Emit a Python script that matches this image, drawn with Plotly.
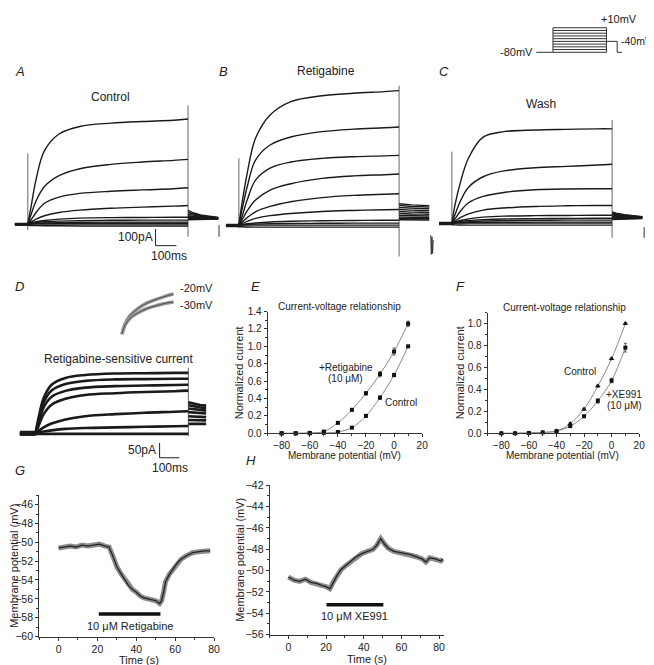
import plotly.graph_objects as go

W, H = 654, 665
FONT = "Liberation Sans, Arial, sans-serif"

# ---------------- data ----------------
# voltage protocol (ms, mV)
PROTO_LEVELS = [-80, -70, -60, -50, -40, -30, -20, -10, 0, 10]
PROTO_HOLD_T = [-315, 0]
PROTO_STEP_T = [0, 1000]
PROTO_TAIL_T = [1000, 1200, 1200, 1290]
PROTO_TAIL_V = [-40, -40, -80, -80]

# current traces (ms, pA)
T_STEP = [-62, 0, 15, 40, 80, 150, 250, 400, 550, 700, 770]
T_TAIL = [770, 790, 830, 880, 915]

A_STEP = [
    [0, 0, 100, 270, 440, 540, 585, 605, 615, 622, 630],
    [0, 0, 55, 140, 225, 290, 332, 358, 372, 382, 388],
    [0, 0, 25, 70, 125, 162, 184, 197, 205, 212, 218],
    [0, 0, 12, 30, 50, 70, 84, 95, 102, 108, 112],
    [2, 2, 7, 14, 22, 30, 36, 39, 40, 41, 41],
    [-2, -2, 4, 9, 14, 18, 21, 23, 24, 24, 24],
    [4, 4, 3, 5, 7, 9, 11, 12, 12, 12, 12],
    [-4, -4, 2, 3, 4, 5, 5, 5, 5, 5, 5],
    [1, 1, 0, 0, 0, 0, 0, 0, 0, 0, 0],
    [-7, -7, -8, -9, -10, -10, -11, -11, -11, -11, -11],
]
A_TAIL = [
    [82, 70, 55, 45, 40], [70, 62, 50, 43, 39], [60, 54, 46, 41, 38],
    [50, 47, 42, 39, 37], [44, 42, 39, 37, 36], [40, 39, 37, 36, 35],
    [36, 36, 35, 35, 34], [33, 33, 33, 33, 33], [30, 30, 31, 31, 32],
    [26, 27, 28, 29, 30],
]
A_ON, A_OFF, A_BLIP = [424, -35], [712, -76], [-6, -76]

B_STEP = [
    [0, 0, 130, 310, 520, 660, 740, 775, 790, 800, 806],
    [0, 0, 90, 230, 390, 480, 528, 560, 575, 583, 588],
    [0, 0, 50, 150, 270, 342, 378, 400, 410, 415, 418],
    [0, 0, 30, 85, 150, 210, 248, 280, 295, 302, 306],
    [2, 2, 17, 45, 80, 112, 140, 165, 178, 185, 188],
    [-2, -2, 9, 23, 40, 57, 70, 82, 88, 92, 94],
    [4, 4, 4, 8, 13, 19, 23, 26, 28, 29, 29],
    [-4, -4, 2, 4, 6, 8, 10, 11, 12, 12, 12],
    [1, 1, 0, 0, 0, 0, 0, 0, 0, 0, 0],
    [-8, -8, -10, -11, -12, -12, -12, -12, -12, -12, -12],
]
B_TAIL = [
    [128, 125, 121, 118, 116], [118, 115, 112, 110, 108], [106, 104, 101, 99, 98],
    [94, 92, 90, 88, 87], [82, 80, 78, 77, 76], [70, 68, 67, 66, 65],
    [58, 57, 56, 55, 55], [48, 47, 46, 46, 45], [40, 39, 39, 38, 38],
    [32, 32, 32, 31, 31],
]
B_ON, B_OFF = [400, -18], [835, -188]
B_BLIP_T = [922, 925, 928, 931, 934]
B_BLIP_V = [-60, -175, -70, -170, -90]

C_STEP = [
    [0, 0, 110, 240, 390, 515, 548, 558, 562, 565, 565],
    [0, 0, 50, 130, 215, 278, 313, 332, 340, 348, 353],
    [0, 0, 25, 70, 122, 160, 184, 200, 205, 206, 206],
    [0, 0, 12, 33, 56, 78, 91, 100, 104, 106, 106],
    [2, 2, 7, 16, 26, 36, 42, 45, 46, 47, 47],
    [-2, -2, 4, 10, 16, 21, 25, 27, 28, 29, 29],
    [4, 4, 3, 5, 9, 13, 15, 17, 18, 18, 18],
    [-4, -4, 1, 2, 3, 4, 5, 6, 6, 6, 6],
    [1, 1, 0, 0, 0, 0, 0, 0, 0, 0, 0],
    [-8, -8, -10, -11, -12, -12, -12, -12, -12, -12, -12],
]
C_TAIL = [
    [68, 60, 50, 42, 38], [60, 55, 47, 41, 37], [54, 50, 44, 39, 36],
    [48, 45, 41, 37, 35], [42, 40, 38, 36, 34], [38, 37, 35, 34, 33],
    [34, 34, 33, 33, 32], [30, 30, 30, 30, 30], [26, 27, 28, 28, 29],
    [22, 23, 25, 26, 27],
]
C_ON, C_OFF, C_BLIP = [429, -12], [618, -88], [-24, -88]

# retigabine-sensitive current (ms, pA)
T_STEP_D = [-80, 0, 15, 40, 80, 150, 250, 400, 550, 700, 770]
T_TAIL_D = [770, 800, 830, 860]
D_STEP = [
    [4, 4, 55, 120, 165, 188, 198, 203, 204, 205, 205],
    [2, 2, 45, 105, 145, 167, 178, 183, 184, 185, 185],
    [0, 0, 38, 88, 124, 144, 155, 160, 162, 164, 165],
    [-2, -2, 26, 65, 97, 117, 130, 136, 140, 143, 145],
    [-3, -3, 8, 20, 33, 47, 58, 65, 70, 73, 75],
    [-4, -4, 3, 6, 10, 15, 18, 20, 22, 24, 25],
    [-2, -2, -2, -2, -2, -2, -2, -2, -2, -2, -2],
]
D_TAIL = [
    [105, 100, 96, 94], [95, 91, 88, 86], [84, 81, 79, 77], [72, 70, 68, 67],
    [58, 57, 56, 55], [45, 45, 44, 44], [32, 32, 32, 32],
]
D_OFF = [223, -10]

# inset: normalised activation at -20 / -30 mV
INSET_T = [0, 15, 40, 80, 125, 170, 210, 260]
INSET_M20 = [0, 0.25, 0.47, 0.65, 0.79, 0.88, 0.95, 1.02]
INSET_M30 = [0, 0.22, 0.40, 0.54, 0.65, 0.72, 0.775, 0.82]

# scale bars
SCALE_T0, SCALE_MS, SCALE_PA, SCALE_PA0 = 614, 100, 100, -129
D_SCALE_T0, D_SCALE_PA, D_SCALE_PA0 = 625, 50, -83

# I-V relationships
IV_V = [-80, -70, -60, -50, -40, -30, -20, -10, 0, 10]
E_RET = [0.0, 0.0, 0.005, 0.02, 0.12, 0.27, 0.46, 0.68, 0.94, 1.26]
E_RET_ERR = [0, 0, 0, 0.01, 0.01, 0.015, 0.02, 0.03, 0.04, 0.03]
E_CTRL = [0.0, 0.0, 0.0, 0.005, 0.015, 0.065, 0.20, 0.41, 0.67, 1.0]
E_CTRL_ERR = [0, 0, 0, 0, 0.005, 0.01, 0.01, 0.02, 0.02, 0.01]
F_CTRL = [0.0, 0.0, 0.003, 0.008, 0.02, 0.088, 0.22, 0.43, 0.68, 1.0]
F_CTRL_ERR = [0, 0, 0, 0, 0.005, 0.01, 0.01, 0.01, 0.01, 0.01]
F_XE = [0.0, 0.0, 0.003, 0.008, 0.02, 0.065, 0.155, 0.295, 0.48, 0.78]
F_XE_ERR = [0, 0, 0, 0, 0.005, 0.01, 0.01, 0.02, 0.02, 0.04]

# membrane potential time courses (s, mV)
G_T = [0, 3, 6, 9, 12, 15, 18, 21, 24, 26, 28, 30, 32, 34, 36, 38, 40, 42, 44, 46,
       48, 50, 52, 53, 54, 55, 57, 59, 61, 63, 66, 69, 72, 75, 78]
G_V = [-50.6, -50.5, -50.4, -50.5, -50.3, -50.4, -50.3, -50.2, -50.4, -50.5, -51.5,
       -52.6, -53.3, -53.9, -54.6, -55.0, -55.3, -55.7, -55.9, -56.0, -56.1, -56.2,
       -56.5, -56.2, -55.3, -54.2, -53.4, -52.8, -52.2, -51.8, -51.4, -51.1, -51.0,
       -50.9, -50.9]
G_BAR_T, G_BAR_V = [20.7, 52.4], -57.6
H_T = [0, 3, 6, 9, 12, 15, 18, 20, 22, 24, 26, 28, 30, 33, 36, 39, 42, 45, 47, 49,
       51, 53, 56, 59, 62, 65, 68, 71, 73, 75, 78, 81, 82]
H_V = [-50.6, -50.9, -51.0, -50.8, -51.1, -51.2, -51.4, -51.5, -51.7, -51.0, -50.4,
       -49.9, -49.6, -49.2, -48.7, -48.4, -48.2, -48.0, -47.6, -47.0, -47.5, -47.9,
       -48.2, -48.3, -48.4, -48.5, -48.7, -48.9, -49.2, -48.8, -48.9, -49.1, -48.9]
H_BAR_T, H_BAR_V = [20.2, 50.4], -53.2

# ---------------- figure ----------------
fig = go.Figure()
layout = dict(width=W, height=H, margin=dict(l=0, r=0, t=0, b=0),
              paper_bgcolor="white", plot_bgcolor="white", showlegend=False)
annotations = []


def ax_names(i):
    s = "" if i == 1 else str(i)
    return "xaxis" + s, "yaxis" + s, "x" + s, "y" + s


def add_axes(i, xpx, ypx, xr, yr, visible=False):
    xn, yn, xs, ys = ax_names(i)
    layout[xn] = dict(domain=[xpx[0] / W, xpx[1] / W], range=xr, autorange=False,
                      anchor=ys, visible=visible, fixedrange=True, showgrid=False,
                      zeroline=False)
    layout[yn] = dict(domain=[1 - ypx[1] / H, 1 - ypx[0] / H], range=yr, autorange=False,
                      anchor=xs, visible=visible, fixedrange=True, showgrid=False,
                      zeroline=False)
    return xs, ys


def style_axes(i, xt0, xdt, xminor, yt0, ydt, yminor, yfmt=None, tsize=10):
    xn, yn, _, _ = ax_names(i)
    common = dict(showline=True, linecolor="#333", linewidth=1, ticks="outside",
                  ticklen=3, tickcolor="#333", tickwidth=1,
                  tickfont=dict(size=tsize, family=FONT, color="#222"), tickmode="linear")
    layout[xn].update(common, tick0=xt0, dtick=xdt,
                      minor=dict(ticks="outside", ticklen=2, dtick=xminor, tick0=xt0,
                                 tickcolor="#333"))
    layout[yn].update(common, tick0=yt0, dtick=ydt,
                      minor=dict(ticks="outside", ticklen=2, dtick=yminor, tick0=yt0,
                                 tickcolor="#333"))
    if yfmt:
        layout[yn]["tickformat"] = yfmt


def line(axes, x, y, color="#1a1a1a", width=1.3, shape="linear"):
    fig.add_trace(go.Scatter(x=x, y=y, xaxis=axes[0], yaxis=axes[1], mode="lines",
                             line=dict(color=color, width=width, shape=shape),
                             hoverinfo="skip", cliponaxis=False))


def step_trace(axes, t, s, width):
    # flat holding segment, then smooth activation from the step onset
    line(axes, t[:2], s[:2], "#1a1a1a", width)
    line(axes, t[1:], s[1:], "#1a1a1a", width, "spline")


def txt(x, y, s, size, xanchor="center", angle=0, color="#222"):
    annotations.append(dict(x=x / W, y=1 - y / H, xref="paper", yref="paper", text=s,
                            showarrow=False, xanchor=xanchor, yanchor="middle",
                            textangle=angle, borderpad=0,
                            font=dict(size=size, family=FONT, color=color)))


# --- protocol ---
ap = add_axes(1, (533, 620), (10, 43), [-315, 1296], [-94.4, 24.4])
for lv in PROTO_LEVELS:
    line(ap, PROTO_STEP_T, [lv, lv], "#333", 1)
line(ap, [PROTO_STEP_T[0]] * 2, [PROTO_LEVELS[0], PROTO_LEVELS[-1]], "#333", 1)
line(ap, [PROTO_STEP_T[1]] * 2, [PROTO_LEVELS[0], PROTO_LEVELS[-1]], "#333", 1)
line(ap, PROTO_HOLD_T, [PROTO_LEVELS[0]] * 2, "#333", 1)
line(ap, PROTO_TAIL_T, PROTO_TAIL_V, "#333", 1)
txt(531, 39, "-80mV", 11, "right")
txt(617, 5, "+10mV", 11)
txt(651, 27, "-40mV", 10.5, "right")


# --- current panels A, B, C ---
def current_panel(i, xpx, t0px, base_py, steps, tails, on, off, blip_t, blip_v):
    xr = [(xpx[0] - t0px) / 0.21, (xpx[1] - t0px) / 0.21]
    yr = [(base_py - 260) / 0.17, (base_py - 60) / 0.17]
    a = add_axes(i, xpx, (60, 260), xr, yr)
    line(a, [0, 0], on, "#666", 1)
    line(a, [T_STEP[-1]] * 2, off, "#666", 1)
    for s, tl in zip(steps, tails):
        step_trace(a, T_STEP, s, 1.4)
        line(a, T_TAIL, tl, "#1a1a1a", 1.4)
    line(a, blip_t, blip_v, "#333", 1)
    return a


aA = current_panel(2, (0, 218), 20, 214, A_STEP, A_TAIL, A_ON, A_OFF, [919, 919], A_BLIP)
line(aA, [SCALE_T0] * 2, [SCALE_PA0, SCALE_PA0 + SCALE_PA], "#222", 1)
line(aA, [SCALE_T0, SCALE_T0 + SCALE_MS], [SCALE_PA0] * 2, "#222", 1)
current_panel(3, (218, 432), 233, 215, B_STEP, B_TAIL, B_ON, B_OFF, B_BLIP_T, B_BLIP_V)
current_panel(4, (432, 654), 448, 213, C_STEP, C_TAIL, C_ON, C_OFF, [924, 924], C_BLIP)

txt(12, 59, "<i>A</i>", 13)
txt(217, 59, "<i>B</i>", 13)
txt(440, 59, "<i>C</i>", 13)
txt(103, 85, "Control", 12)
txt(321, 58, "Retigabine", 12)
txt(538, 92, "Wash", 12)
txt(147, 227, "100pA", 12, "right")
txt(162, 246, "100ms", 12)

# --- panel D ---
aD = add_axes(5, (0, 215), (340, 470), [-140, 935], [-143.3, 290])
line(aD, [T_STEP_D[-1]] * 2, D_OFF, "#666", 1)
for s, tl in zip(D_STEP, D_TAIL):
    step_trace(aD, T_STEP_D, s, 2.6)
    line(aD, T_TAIL_D, tl, "#1a1a1a", 2.6)
line(aD, [D_SCALE_T0] * 2, [D_SCALE_PA0, D_SCALE_PA0 + D_SCALE_PA], "#222", 1)
line(aD, [D_SCALE_T0, D_SCALE_T0 + SCALE_MS], [D_SCALE_PA0] * 2, "#222", 1)

aI = add_axes(6, (110, 172), (280, 330), [-25, 285], [-0.1, 1.15])
for yy in (INSET_M20, INSET_M30):
    line(aI, INSET_T, yy, "#9a9a9a", 3.5, "spline")
    line(aI, INSET_T, yy, "#444", 0.9, "spline")

txt(12, 278, "<i>D</i>", 13)
txt(173, 279, "-20mV", 11, "left")
txt(173, 296, "-30mV", 11, "left")
txt(112, 351, "Retigabine-sensitive current", 12)
txt(150, 444, "50pA", 12, "right")
txt(163, 462, "100ms", 12)

# --- panel E ---
aE = add_axes(7, (262, 418), (303, 427), [-90, 20], [0, 1.4], visible=True)
style_axes(7, -80, 20, 10, 0, 0.2, 0.1, ".1f")
for yy, ee in ((E_RET, E_RET_ERR), (E_CTRL, E_CTRL_ERR)):
    line(aE, IV_V, yy, "#8a8a8a", 1, "spline")
    fig.add_trace(go.Scatter(x=IV_V, y=yy, xaxis=aE[0], yaxis=aE[1], mode="markers",
                             marker=dict(symbol="square", size=4, color="#111"),
                             error_y=dict(type="data", array=ee, thickness=0.8, width=1.5,
                                          color="#333"),
                             cliponaxis=False, hoverinfo="skip"))
txt(250, 278, "<i>E</i>", 13)
txt(335, 298, "Current-voltage relationship", 10)
txt(341, 360, "+Retigabine", 10)
txt(341, 371, "(10 μM)", 10)
txt(397, 396, "Control", 10)
txt(234, 365, "Normalized current", 11, angle=-90)
txt(340, 450, "Membrane potential (mV)", 10)

# --- panel F ---
aF = add_axes(8, (484, 637), (304, 427), [-90, 20], [0, 1.1], visible=True)
style_axes(8, -80, 20, 10, 0, 0.2, 0.1, ".1f")
for yy, ee, sym, sz in ((F_CTRL, F_CTRL_ERR, "triangle-up", 5),
                        (F_XE, F_XE_ERR, "square", 4)):
    line(aF, IV_V, yy, "#8a8a8a", 1, "spline")
    fig.add_trace(go.Scatter(x=IV_V, y=yy, xaxis=aF[0], yaxis=aF[1], mode="markers",
                             marker=dict(symbol=sym, size=sz, color="#111"),
                             error_y=dict(type="data", array=ee, thickness=0.8, width=1.5,
                                          color="#333"),
                             cliponaxis=False, hoverinfo="skip"))
txt(457, 278, "<i>F</i>", 13)
txt(562, 299, "Current-voltage relationship", 10)
txt(577, 364, "Control", 10)
txt(622, 388, "+XE991", 10)
txt(622, 399, "(10 μM)", 10)
txt(457, 365, "Normalized current", 11, angle=-90)
txt(560, 450, "Membrane potential (mV)", 10)

# --- panel G ---
aG = add_axes(9, (31.4, 208), (490, 634), [-10, 80], [-60, -45], visible=True)
style_axes(9, 0, 20, 10, -60, 2, 1, tsize=10.5)
line(aG, G_T, G_V, "#8c8c8c", 5)
line(aG, G_T, G_V, "#222", 1.3)
line(aG, G_BAR_T, [G_BAR_V] * 2, "#111", 3.5)
txt(12, 465, "<i>G</i>", 13)
txt(123, 623, "10 μM Retigabine", 11)
txt(6, 562, "Membrane potential (mV)", 11, angle=-90)
txt(132, 658, "Time (s)", 11)

# --- panel H ---
aH = add_axes(10, (264, 440), (480, 632), [-10, 82.6], [-56, -42], visible=True)
style_axes(10, 0, 20, 10, -56, 2, 1, tsize=10.5)
line(aH, H_T, H_V, "#8c8c8c", 5)
line(aH, H_T, H_V, "#222", 1.3)
line(aH, H_BAR_T, [H_BAR_V] * 2, "#111", 3.5)
txt(245, 455, "<i>H</i>", 13)
txt(350, 613, "10 μM XE991", 11)
txt(234, 556, "Membrane potential (mV)", 11, angle=-90)
txt(362, 657, "Time (s)", 11)

layout["annotations"] = annotations
fig.update_layout(**layout)
fig.write_html("out.html")
